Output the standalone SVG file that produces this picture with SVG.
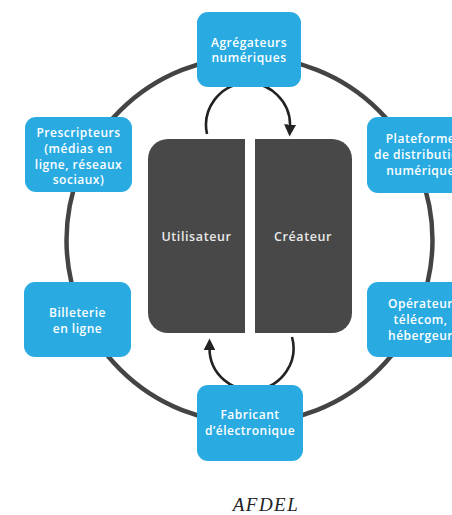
<svg xmlns="http://www.w3.org/2000/svg" width="452" height="515" viewBox="0 0 452 515">
<style>
.box{fill:#29abe2}
.lbl{font-family:"Open Sans","Noto Sans",sans-serif;font-weight:600;font-size:12px;fill:#ffffff;text-anchor:middle;letter-spacing:0.5px}
.core{fill:#484848}
.clbl{font-family:"Open Sans","Noto Sans",sans-serif;font-weight:600;font-size:12.5px;fill:#e8e8e8;text-anchor:middle;letter-spacing:0.6px}
.ring{fill:none;stroke:#444444;stroke-width:4.5}
.flow{fill:none;stroke:#222222;stroke-width:2.6}
</style>
<defs>
<marker id="ah" viewBox="0 0 10 10" refX="2" refY="5" markerWidth="12" markerHeight="12" markerUnits="userSpaceOnUse" orient="auto">
<path d="M0,0 L10,5 L0,10 Z" fill="#222222"/>
</marker>
</defs>
<rect width="452" height="515" fill="#ffffff"/>
<g id="connectors">
<circle class="ring" cx="249.5" cy="240" r="183"/>
<path class="flow" d="M207,134 A42,42 0 1 1 290,127" marker-end="url(#ah)"/>
<path class="flow" d="M292,337 A42,42 0 1 1 209.5,348" marker-end="url(#ah)"/>
</g>
<g id="utilisateur">
<path class="core" d="M245,139 H168 A20,20 0 0 0 148,159 V313 A20,20 0 0 0 168,333 H245 Z"/>
<text class="clbl" x="196.5" y="241">Utilisateur</text>
</g>
<g id="createur">
<path class="core" d="M255,139 H332 A20,20 0 0 1 352,159 V313 A20,20 0 0 1 332,333 H255 Z"/>
<text class="clbl" x="303" y="241">Créateur</text>
</g>
<g id="agregateurs">
<rect class="box" x="197" y="12" width="104" height="75" rx="11"/>
<text class="lbl" x="249" y="46.5">Agrégateurs</text>
<text class="lbl" x="249" y="62">numériques</text>
</g>
<g id="plateforme">
<rect class="box" x="367" y="117" width="107" height="76" rx="11"/>
<text class="lbl" x="420.5" y="143">Plateforme</text>
<text class="lbl" x="420.5" y="159">de distribution</text>
<text class="lbl" x="420.5" y="175">numérique</text>
</g>
<g id="operateur">
<rect class="box" x="367" y="282" width="107" height="75" rx="11"/>
<text class="lbl" x="420.5" y="308">Opérateur</text>
<text class="lbl" x="420.5" y="324">télécom,</text>
<text class="lbl" x="420.5" y="340">hébergeur</text>
</g>
<g id="fabricant">
<rect class="box" x="197" y="385" width="106" height="76" rx="11"/>
<text class="lbl" x="250" y="418.5">Fabricant</text>
<text class="lbl" x="250" y="435">d’électronique</text>
</g>
<g id="billeterie">
<rect class="box" x="24" y="282" width="107" height="75" rx="11"/>
<text class="lbl" x="77.5" y="317">Billeterie</text>
<text class="lbl" x="77.5" y="333">en ligne</text>
</g>
<g id="prescripteurs">
<rect class="box" x="25" y="117" width="107" height="75" rx="11"/>
<text class="lbl" x="78.5" y="137">Prescripteurs</text>
<text class="lbl" x="78.5" y="153">(médias en</text>
<text class="lbl" x="78.5" y="168.5">ligne, réseaux</text>
<text class="lbl" x="78.5" y="184">sociaux)</text>
</g>
<text x="266" y="511" font-family="Liberation Serif, serif" font-style="italic" font-size="19" letter-spacing="1.5" fill="#222222" text-anchor="middle">AFDEL</text>
</svg>
